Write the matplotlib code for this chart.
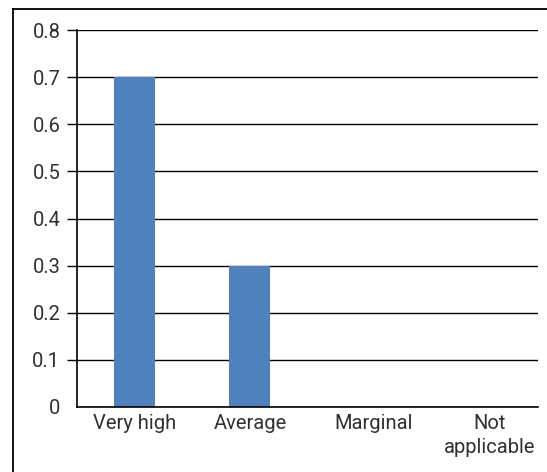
import matplotlib
matplotlib.use("Agg")
import matplotlib.pyplot as plt
from matplotlib.lines import Line2D
from matplotlib.transforms import ScaledTranslation

categories = ["Very high", "Average", "Marginal", "Not\napplicable"]
values = [0.7, 0.3, 0.0, 0.0]
yticks = [0, 0.1, 0.2, 0.3, 0.4, 0.5, 0.6, 0.7, 0.8]
ytick_labels = ["0", "0.1", "0.2", "0.3", "0.4", "0.5", "0.6", "0.7", "0.8"]

plt.rcParams["font.family"] = ["Roboto", "DejaVu Sans"]

W, H = 547, 472
fig = plt.figure(figsize=(W / 100, H / 100), dpi=100)
ax = fig.add_axes([77 / W, 1 - 407 / H, (538 - 77) / W, (407 - 30) / H])

x = list(range(len(categories)))
ax.bar(x, values, width=0.356, color="#4f81bd", zorder=3)

ax.set_xlim(-0.5, len(categories) - 0.5)
ax.set_ylim(0, 0.8)
ax.set_yticks(yticks)
ax.set_yticklabels(ytick_labels)
ax.set_xticks(x)
ax.set_xticklabels(categories, linespacing=1.35)

ax.grid(axis="y", color="black", linewidth=1.0, zorder=0)
for side in ("top", "right"):
    ax.spines[side].set_visible(False)
for side in ("left", "bottom"):
    ax.spines[side].set_linewidth(1.2)
    ax.spines[side].set_zorder(4)

ax.tick_params(axis="y", length=7, width=1.0, pad=5, labelsize=14.5, labelcolor="#303030")
ax.tick_params(axis="x", length=0, pad=5, labelsize=14.5, labelcolor="#303030")

# no outward tick mark at the baseline
ax.yaxis.get_major_ticks()[0].tick1line.set_visible(False)

# the last two category labels sit a little to the right
for lbl in ax.get_xticklabels()[2:]:
    lbl.set_transform(lbl.get_transform() + ScaledTranslation(0.09, 0, fig.dpi_scale_trans))

# outer frame lines along the left and top edges
fig.add_artist(Line2D([13 / W, 13 / W], [0, 1 - 9 / H], transform=fig.transFigure,
                      color="black", linewidth=1.3))
fig.add_artist(Line2D([13 / W, 1], [1 - 9 / H, 1 - 9 / H], transform=fig.transFigure,
                      color="black", linewidth=1.3))

fig.savefig("out.png", dpi=100)
